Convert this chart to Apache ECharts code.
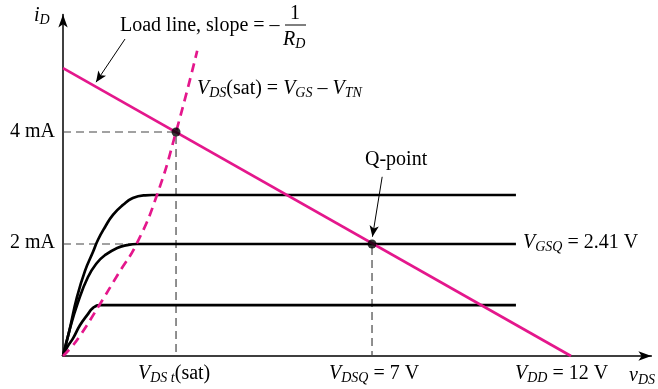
<!DOCTYPE html>
<html>
<head>
<meta charset="utf-8">
<script src="https://cdn.jsdelivr.net/npm/echarts@6/dist/echarts.min.js"></script>
<style>
  html, body { margin: 0; background: #fff; }
  #chart { width: 658px; height: 389px; }
</style>
</head>
<body>
<div id="chart"></div>
<script>
// Schematic MOSFET output characteristics (sketch, not to scale).
// x: v_DS in drawing units, y: i_D in mA
const curveHigh = [[0, 0], [0.15, 0.45], [0.33, 1.05], [0.52, 1.52], [0.71, 1.86], [0.83, 2.08], [0.99, 2.30], [1.18, 2.52], [1.42, 2.70], [1.65, 2.82], [1.94, 2.87], [2.10, 2.875], [10.7, 2.875]];
const curveQ    = [[0, 0], [0.15, 0.45], [0.35, 0.95], [0.59, 1.41], [0.80, 1.66], [0.99, 1.80], [1.28, 1.93], [1.51, 1.98], [1.75, 2.0], [10.7, 2.0]];
const curveLow  = [[0, 0], [0.10, 0.16], [0.24, 0.32], [0.40, 0.55], [0.57, 0.73], [0.71, 0.86], [0.87, 0.91], [10.7, 0.91]];
const satLocus  = [[0, 0], [0.20, 0.16], [0.40, 0.36], [0.86, 0.91], [1.30, 1.46], [1.75, 2.02], [2.22, 2.875], [2.67, 4.0], [3.17, 5.45]];
const loadLine  = [[0, 5.14], [12, 0]];
const opPoints  = [[2.67, 4.0], [7.3, 2.0]];   // V_DS(sat) point, Q-point
const guides    = [
  [[0, 4.0], [2.67, 4.0], [2.67, 0]],
  [[0, 2.0], [7.3, 2.0], [7.3, 0]]
];
const arrows = [
  [[1.465, 5.66], [0.78, 4.89]],   // load line callout
  [[7.54, 3.20], [7.31, 2.13]]     // Q-point callout
];

const PINK = '#e4178c';
const SERIF = '"Liberation Serif", "DejaVu Serif", serif';

const rich = {
  t: { fontFamily: SERIF, fontSize: 20, color: '#000', lineHeight: 22 },
  v: { fontFamily: SERIF, fontSize: 20, fontStyle: 'italic', color: '#000', lineHeight: 22 },
  s: { fontFamily: SERIF, fontSize: 14, fontStyle: 'italic', color: '#000', lineHeight: 10, verticalAlign: 'bottom' }
};

function label(x, y, text, align) {
  return {
    type: 'text', x: x, y: y, z: 100,
    style: { text: text, rich: rich, align: align || 'left', verticalAlign: 'middle' }
  };
}

const chart = echarts.init(document.getElementById('chart'));

const guideSeries = guides.map(function (g) {
  return {
    type: 'line', data: g, symbol: 'none', silent: true, z: 1,
    lineStyle: { color: '#444', width: 1.2, type: [8, 5] }
  };
});

function blackCurve(d) {
  return {
    type: 'line', data: d, symbol: 'none', smooth: 0.5, z: 3,
    lineStyle: { color: '#000', width: 2.7 }
  };
}

chart.setOption({
  animation: false,
  backgroundColor: '#fff',
  grid: { left: 63, right: 6.6, top: 14.4, bottom: 33 },
  xAxis: {
    type: 'value', min: 0, max: 13.9,
    axisLine: { lineStyle: { color: '#000', width: 1.5 }, symbol: ['none', 'arrow'], symbolSize: [7, 13] },
    axisTick: { show: false }, axisLabel: { show: false }, splitLine: { show: false }
  },
  yAxis: {
    type: 'value', min: 0, max: 6.1,
    axisLine: { lineStyle: { color: '#000', width: 1.5 }, symbol: ['none', 'arrow'], symbolSize: [7, 13] },
    axisTick: { show: false }, axisLabel: { show: false }, splitLine: { show: false }
  },
  series: guideSeries.concat([
    blackCurve(curveHigh),
    blackCurve(curveQ),
    blackCurve(curveLow),
    { type: 'line', data: satLocus, symbol: 'none', smooth: 0.5, z: 4, lineStyle: { color: PINK, width: 2.7, type: [9, 6] } },
    {
      type: 'line', data: loadLine, symbol: 'none', z: 5, lineStyle: { color: PINK, width: 2.7 },
      markLine: {
        silent: true, symbol: ['none', 'arrow'], symbolSize: [7, 11],
        label: { show: false },
        lineStyle: { color: '#000', width: 1, type: 'solid' },
        data: arrows.map(function (a) { return [{ coord: a[0] }, { coord: a[1] }]; })
      }
    },
    { type: 'scatter', data: opPoints, symbolSize: 9, z: 6, itemStyle: { color: '#000' } }
  ]),
  graphic: [
    label(34, 16, '{v|i}{s|D}'),
    label(120, 26, '{t|Load line, slope = –}'),
    label(295, 14, '{t|1}', 'center'),
    { type: 'line', z: 100, shape: { x1: 285, y1: 25, x2: 306, y2: 25 }, style: { stroke: '#000', lineWidth: 1 } },
    label(283, 40, '{v|R}{s|D}'),
    label(197, 89, '{v|V}{s|DS}{t|(sat) = }{v|V}{s|GS}{t| – }{v|V}{s|TN}'),
    label(55, 132, '{t|4 mA}', 'right'),
    label(55, 243, '{t|2 mA}', 'right'),
    label(365, 160, '{t|Q-point}'),
    label(523, 243, '{v|V}{s|GSQ}{t| = 2.41 V}'),
    label(138, 374, '{v|V}{s|DS t}{t|(sat)}'),
    label(329, 374, '{v|V}{s|DSQ}{t| = 7 V}'),
    label(515, 374, '{v|V}{s|DD}{t| = 12 V}'),
    label(629, 376, '{v|v}{s|DS}')
  ]
});
</script>
</body>
</html>
